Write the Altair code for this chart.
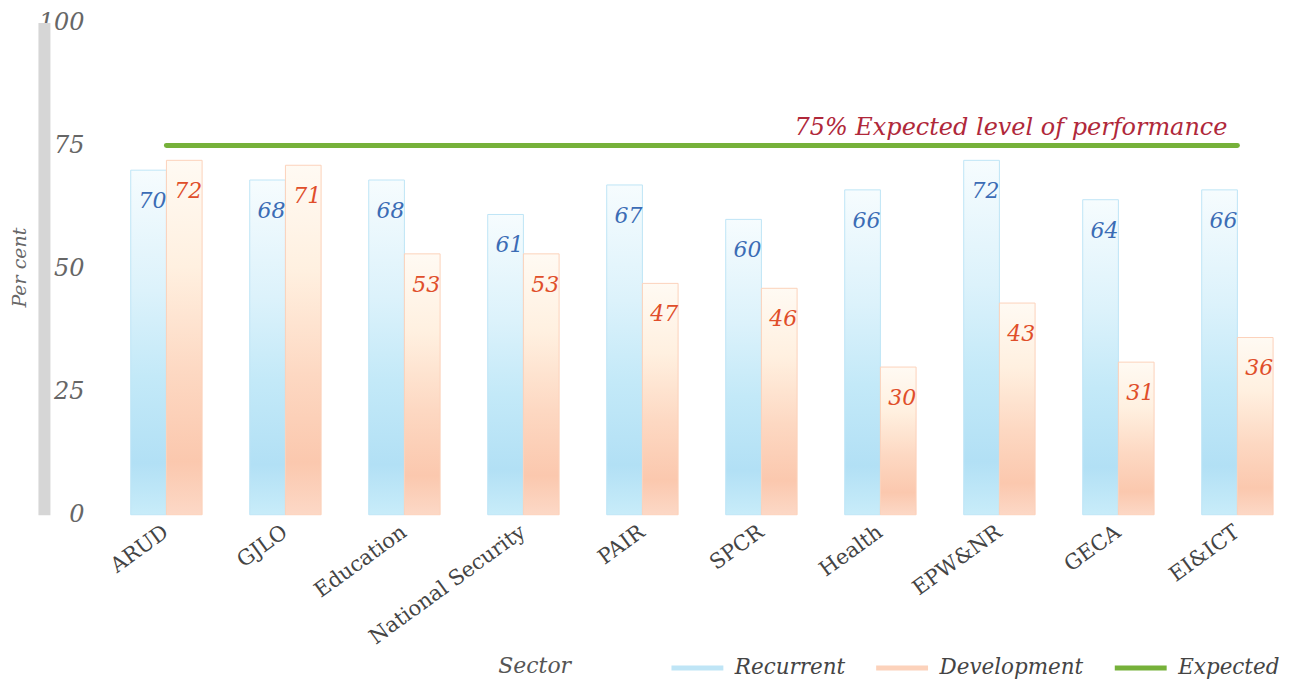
import altair as alt
import pandas as pd

sectors = ["ARUD", "GJLO", "Education", "National Security", "PAIR",
           "SPCR", "Health", "EPW&NR", "GECA", "EI&ICT"]
recurrent = [70, 68, 68, 61, 67, 60, 66, 72, 64, 66]
development = [72, 71, 53, 53, 47, 46, 30, 43, 31, 36]
expected_level = 75
expected_note = "75% Expected level of performance"
series_names = ["Recurrent", "Development", "Expected"]
series_colors = ["#bfe5f6", "#fcd2bb", "#76b13a"]
y_ticks = [0, 25, 50, 75, 100]

rows = []
for s, r, d in zip(sectors, recurrent, development):
    rows.append({"sector": s, "series": "Recurrent", "value": r})
    rows.append({"sector": s, "series": "Development", "value": d})
df = pd.DataFrame(rows)
line_df = pd.DataFrame({"sector": [sectors[0], sectors[-1]],
                        "value": [expected_level, expected_level]})
note_df = pd.DataFrame({"sector": [sectors[-1]], "value": [expected_level],
                        "note": [expected_note]})

FONT = "DejaVu Serif"

x_enc = alt.X(
    "sector:N", sort=sectors,
    scale=alt.Scale(domain=sectors, paddingInner=0.4, paddingOuter=0.1),
    axis=alt.Axis(title="Sector", labelAngle=-36, labelAlign="right",
                  labelBaseline="middle", labelPadding=15, labelFont=FONT,
                  labelFontSize=21, labelColor="#444", labelLimit=400,
                  ticks=False, domain=False, titleFont=FONT,
                  titleFontStyle="italic", titleFontWeight="normal",
                  titleFontSize=22, titleColor="#555", titleX=416,
                  titleY=151, titleAlign="center", titleBaseline="middle"),
)
y_enc = alt.Y(
    "value:Q", scale=alt.Scale(domain=[0, 100], nice=False),
    axis=alt.Axis(values=y_ticks, title="Per cent", grid=False, ticks=False,
                  offset=75, domainColor="#d6d6d6", domainWidth=12,
                  labelPadding=-40, labelAlign="right", labelBaseline="middle",
                  labelFont=FONT, labelFontStyle="italic", labelFontSize=24,
                  labelColor="#666", titleFont=FONT, titleFontStyle="italic",
                  titleFontWeight="normal", titleFontSize=19,
                  titleColor="#666", titleX=-24, titleY=245, titleAngle=270,
                  titleAlign="center", titleBaseline="middle"),
)
xoff = alt.XOffset("series:N", sort=["Recurrent", "Development"],
                   scale=alt.Scale(domain=["Recurrent", "Development"],
                                   paddingInner=0, paddingOuter=0))
stroke_enc = alt.Stroke(
    "series:N",
    scale=alt.Scale(domain=series_names, range=series_colors),
    legend=alt.Legend(
        title=None, orient="none", legendX=551, legendY=618,
        direction="horizontal",
        symbolType="stroke", symbolSize=2700, symbolStrokeWidth=5,
        labelFont=FONT, labelFontStyle="italic", labelFontSize=21.5,
        labelColor="#444", columnPadding=20, labelOffset=9,
    ),
)

rec_grad = {"gradient": "linear", "x1": 0, "y1": 0, "x2": 0, "y2": 1,
            "stops": [{"offset": 0, "color": "#f6fcfe"},
                      {"offset": 0.35, "color": "#dcf2fb"},
                      {"offset": 0.6, "color": "#c3e9f8"},
                      {"offset": 0.85, "color": "#b2e0f5"},
                      {"offset": 1, "color": "#c8ecf9"}]}
dev_grad = {"gradient": "linear", "x1": 0, "y1": 0, "x2": 0, "y2": 1,
            "stops": [{"offset": 0, "color": "#fffaf3"},
                      {"offset": 0.3, "color": "#fff0e0"},
                      {"offset": 0.6, "color": "#fdd8c2"},
                      {"offset": 0.85, "color": "#fbc8ae"},
                      {"offset": 1, "color": "#fcd8c6"}]}

base = alt.Chart(df)

rec_bars = base.transform_filter(alt.datum.series == "Recurrent").mark_bar(
    fill=rec_grad, strokeWidth=1).encode(x=x_enc, xOffset=xoff, y=y_enc,
                                         stroke=stroke_enc)
dev_bars = base.transform_filter(alt.datum.series == "Development").mark_bar(
    fill=dev_grad, strokeWidth=1).encode(x=x_enc, xOffset=xoff, y=y_enc,
                                         stroke=stroke_enc)

rec_text = base.transform_filter(alt.datum.series == "Recurrent").mark_text(
    font=FONT, fontStyle="italic", fontSize=22, align="right",
    baseline="middle", dx=18, dy=31, color="#3b6cb5").encode(
    x=x_enc, xOffset=xoff, y=y_enc, text="value:Q")
dev_text = base.transform_filter(alt.datum.series == "Development").mark_text(
    font=FONT, fontStyle="italic", fontSize=22, align="right",
    baseline="middle", dx=18, dy=31, color="#e04e2a").encode(
    x=x_enc, xOffset=xoff, y=y_enc, text="value:Q")

exp_line = alt.Chart(line_df).mark_line(strokeWidth=5, strokeCap="round").encode(
    x=x_enc, y=y_enc, stroke=alt.datum("Expected"))

note = alt.Chart(note_df).mark_text(
    font=FONT, fontStyle="italic", fontSize=24, align="right",
    baseline="alphabetic", dx=-10, dy=-11, color="#b0283a").encode(
    x=x_enc, y=y_enc, text="note:N")

chart = alt.layer(rec_bars, dev_bars, exp_line, rec_text, dev_text, note).properties(
    width=1168, height=493,
    background="white",
    autosize=alt.AutoSizeParams(type="none"),
    padding={"left": 111, "top": 14, "right": 0, "bottom": 166},
).configure_view(stroke=None)

chart.save("out.html", embed_options={"renderer": "svg", "actions": False})
